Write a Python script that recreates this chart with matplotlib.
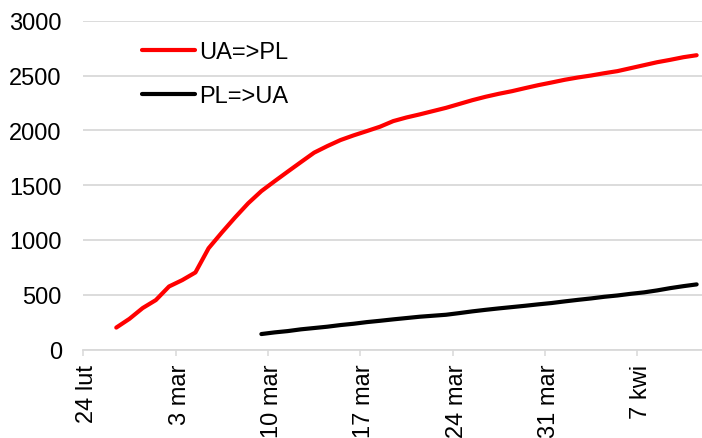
import matplotlib
matplotlib.use("Agg")
import matplotlib.pyplot as plt
import matplotlib.dates as mdates
import matplotlib.transforms as mtransforms
import pandas as pd

plt.rcParams["font.family"] = ["Liberation Sans", "DejaVu Sans"]

# Daily series (thousands of border crossings)
ua_pl_start = "2022-02-26"
ua_pl = [200, 280, 378, 451, 575, 633, 703, 924, 1067, 1204, 1334, 1445,
         1535, 1623, 1710, 1796, 1856, 1911, 1954, 1993, 2033, 2084, 2117,
         2145, 2175, 2205, 2240, 2275, 2306, 2333, 2357, 2385, 2412, 2436,
         2461, 2482, 2500, 2521, 2540, 2567, 2594, 2621, 2643, 2667, 2685]

pl_ua_start = "2022-03-09"
pl_ua = [141, 156, 168, 184, 196, 208, 223, 235, 250, 262, 275, 287, 299,
         308, 317, 332, 348, 362, 375, 387, 399, 412, 424, 439, 453, 466,
         481, 493, 508, 521, 539, 560, 578, 594]

series_labels = ["UA=>PL", "PL=>UA"]
tick_dates = ["2022-02-24", "2022-03-03", "2022-03-10", "2022-03-17",
              "2022-03-24", "2022-03-31", "2022-04-07"]
tick_labels = ["24 lut", "3 mar", "10 mar", "17 mar", "24 mar", "31 mar", "7 kwi"]
y_ticks = [0, 500, 1000, 1500, 2000, 2500, 3000]

GRID = "#D9D9D9"

fig = plt.figure(figsize=(7.02, 4.39), dpi=100)
W, H = 702, 439
left, right, top, bottom = 83.3, 702.5, 21.7, 350.5
ax = fig.add_axes([left / W, 1 - bottom / H, (right - left) / W, (bottom - top) / H])

# each day is drawn at the middle of its slot
half_day = pd.Timedelta(hours=12)
x_ua = pd.date_range(ua_pl_start, periods=len(ua_pl), freq="D") + half_day
x_pl = pd.date_range(pl_ua_start, periods=len(pl_ua), freq="D") + half_day

l1, = ax.plot(x_ua, ua_pl, color="#FF0000", lw=3, solid_capstyle="round",
              solid_joinstyle="round", label=series_labels[0], zorder=3)
l2, = ax.plot(x_pl, pl_ua, color="#000000", lw=3, solid_capstyle="round",
              solid_joinstyle="round", label=series_labels[1], zorder=3)

x0 = pd.Timestamp("2022-02-24")
ax.set_xlim(x0, x0 + pd.Timedelta(days=(right - left) / 13.19))
ax.set_ylim(0, 3000)

ax.set_yticks(y_ticks)
ax.set_yticklabels([str(v) for v in y_ticks])
ax.set_xticks(pd.to_datetime(tick_dates))
ax.set_xticklabels(tick_labels, rotation=90, va="top", ha="center")

ax.yaxis.grid(True, color=GRID, lw=1.3)
ax.xaxis.grid(False)
ax.set_axisbelow(True)
for s in ("top", "right", "left"):
    ax.spines[s].set_visible(False)
ax.spines["bottom"].set_color(GRID)
ax.spines["bottom"].set_linewidth(1.3)

ax.tick_params(axis="y", length=0, pad=15.5, labelsize=17, labelcolor="#000000")
ax.tick_params(axis="x", length=4.3, width=1.1, color=GRID, pad=6,
               labelsize=17, labelcolor="#000000")

shift = mtransforms.ScaledTranslation(4 / 100, 0, fig.dpi_scale_trans)
for lab in ax.get_xticklabels():
    lab.set_transform(lab.get_transform() + shift)

ax.legend(handles=[l1, l2], loc="center left", frameon=False, fontsize=17,
          bbox_to_anchor=(141.7 / W, 1 - 75 / H), bbox_transform=fig.transFigure,
          borderpad=0, borderaxespad=0, handlelength=2.25, handletextpad=0.2,
          labelspacing=0.92)

fig.savefig("out.png", dpi=100)
